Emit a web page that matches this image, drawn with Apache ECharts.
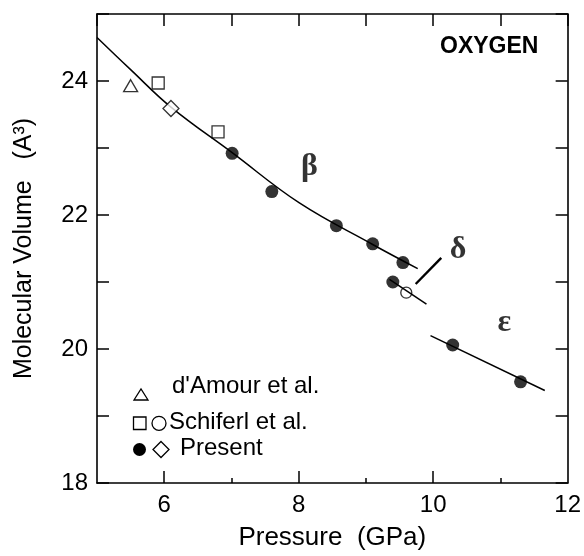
<!DOCTYPE html>
<html>
<head>
<meta charset="utf-8">
<script src="https://cdn.jsdelivr.net/npm/echarts@6/dist/echarts.min.js"></script>
<style>
  html, body { margin: 0; padding: 0; background: #fff; }
  #chart { width: 584px; height: 556px; }
</style>
</head>
<body>
<div id="chart"></div>
<script>
// pressure (GPa), molecular volume (A^3)
const dAmour = [[5.50, 23.93]]
const schiferlSquares = [[5.91, 23.97], [6.80, 23.24]]
const schiferlCircles = [[9.60, 20.84]]
const presentCircles = [
  [7.01, 22.92], [7.60, 22.35], [8.56, 21.84], [9.10, 21.57],
  [9.55, 21.29], [9.40, 21.00], [10.29, 20.06], [11.30, 19.51],
]
const presentDiamonds = [[6.10, 23.59]]

// fitted curves for each phase
const betaCurve = [
  [5.00, 24.65], [5.50, 24.17], [6.10, 23.61], [7.01, 22.93],
  [8.01, 22.18], [9.10, 21.56], [9.77, 21.20],
]
const deltaCurve = [[9.35, 21.04], [9.90, 20.67]]
const epsilonCurve = [[9.96, 20.20], [11.66, 19.38]]
const deltaPointer = [[9.74, 20.97], [10.12, 21.36]]

const phaseLabels = [
  { name: 'β', value: [8.16, 22.72] },
  { name: 'δ', value: [10.37, 21.48] },
  { name: 'ε', value: [11.06, 20.39] },
]

const xTickLabels = [6, 8, 10, 12]
const yTickLabels = [18, 20, 22, 24]

const FONT = 'Liberation Sans, Arial, Helvetica, sans-serif'
const lineCol = '#000'

const chart = echarts.init(document.getElementById('chart'))

const frameAxis = {
  axisLine: { show: true, onZero: false, lineStyle: { color: lineCol, width: 1.6 } },
  splitLine: { show: false },
}

const lineSeries = (data, width) => ({
  type: 'line',
  data,
  smooth: 0.4,
  showSymbol: false,
  symbol: 'none',
  silent: true,
  lineStyle: { color: lineCol, width: width || 1.5 },
  z: 2,
})

const openSymbol = (data, symbol, size, fill) => ({
  type: 'scatter',
  data,
  symbol,
  symbolSize: size,
  itemStyle: { color: fill || 'rgba(0,0,0,0)', borderColor: lineCol, borderWidth: 1.3 },
  z: 4,
})

const option = {
  animation: false,
  backgroundColor: '#fff',
  grid: { left: 97, right: 16, top: 14, bottom: 73 },
  xAxis: [
    {
      ...frameAxis,
      type: 'value', position: 'bottom', min: 5, max: 12,
      name: 'Pressure  (GPa)', nameLocation: 'middle', nameGap: 42,
      nameTextStyle: { fontFamily: FONT, fontSize: 26, color: lineCol },
      axisTick: { inside: true, length: 12, customValues: [6, 8, 10], lineStyle: { color: lineCol, width: 1.5 } },
      axisLabel: { customValues: xTickLabels, fontFamily: FONT, fontSize: 24, color: lineCol, margin: 10 },
    },
    {
      type: 'value', position: 'bottom', min: 5, max: 12,
      axisLine: { show: false }, splitLine: { show: false },
      axisTick: { inside: true, length: 5, customValues: [7, 9, 11], lineStyle: { color: lineCol, width: 1.5 } },
      axisLabel: { show: false },
    },
    {
      ...frameAxis,
      type: 'value', position: 'top', min: 5, max: 12, interval: 1,
      axisTick: { inside: true, length: 12, lineStyle: { color: lineCol, width: 1.5 } },
      axisLabel: { show: false },
    },
  ],
  yAxis: [
    {
      ...frameAxis,
      type: 'value', position: 'left', min: 18, max: 25, interval: 1,
      name: 'Molecular Volume   (A³)', nameLocation: 'middle', nameGap: 60, nameRotate: 90,
      nameTextStyle: { fontFamily: FONT, fontSize: 25, color: lineCol },
      axisTick: { inside: true, length: 12, lineStyle: { color: lineCol, width: 1.5 } },
      axisLabel: {
        fontFamily: FONT, fontSize: 24, color: lineCol, margin: 9,
        formatter: (v) => (yTickLabels.includes(v) ? String(v) : ''),
      },
    },
    {
      ...frameAxis,
      type: 'value', position: 'right', min: 18, max: 25, interval: 1,
      axisTick: { inside: true, length: 12, lineStyle: { color: lineCol, width: 1.5 } },
      axisLabel: { show: false },
    },
  ],
  series: [
    lineSeries(betaCurve),
    lineSeries(deltaCurve),
    lineSeries(epsilonCurve),
    { ...lineSeries(deltaPointer, 2.4), smooth: false },
    openSymbol(dAmour, 'triangle', [14, 12]),
    openSymbol(schiferlSquares, 'rect', 12),
    openSymbol(schiferlCircles, 'circle', 11),
    openSymbol(presentDiamonds, 'diamond', 16, '#fff'),
    {
      type: 'scatter',
      data: presentCircles,
      symbol: 'circle',
      symbolSize: 13,
      itemStyle: { color: lineCol },
      z: 5,
    },
    {
      type: 'scatter',
      data: phaseLabels,
      symbolSize: 0,
      silent: true,
      label: {
        show: true, position: 'inside', formatter: '{b}',
        fontFamily: 'Liberation Serif, Times New Roman, serif', fontWeight: 'bold',
        fontSize: 32, color: lineCol,
      },
    },
  ],
  graphic: [
    {
      type: 'text', left: 440, top: 35,
      style: { text: 'OXYGEN', font: 'bold 23px ' + FONT, fill: lineCol },
    },
    // legend
    {
      type: 'polygon', shape: { points: [[134, 400], [148, 400], [141, 389]] },
      style: { fill: 'none', stroke: lineCol, lineWidth: 1.3 },
    },
    {
      type: 'rect', shape: { x: 133.5, y: 417, width: 12.5, height: 12.5 },
      style: { fill: 'none', stroke: lineCol, lineWidth: 1.3 },
    },
    {
      type: 'circle', shape: { cx: 159, cy: 423.3, r: 7 },
      style: { fill: 'none', stroke: lineCol, lineWidth: 1.3 },
    },
    {
      type: 'circle', shape: { cx: 139.5, cy: 449.5, r: 6.5 },
      style: { fill: lineCol },
    },
    {
      type: 'polygon', shape: { points: [[161, 441.5], [169, 449.5], [161, 457.5], [153, 449.5]] },
      style: { fill: 'none', stroke: lineCol, lineWidth: 1.3 },
    },
    {
      type: 'text', left: 172, top: 374,
      style: { text: "d'Amour et al.", font: '24px ' + FONT, fill: lineCol },
    },
    {
      type: 'text', left: 169, top: 410,
      style: { text: 'Schiferl et al.', font: '24px ' + FONT, fill: lineCol },
    },
    {
      type: 'text', left: 180, top: 436,
      style: { text: 'Present', font: '24px ' + FONT, fill: lineCol },
    },
  ],
}

chart.setOption(option)
</script>
</body>
</html>
